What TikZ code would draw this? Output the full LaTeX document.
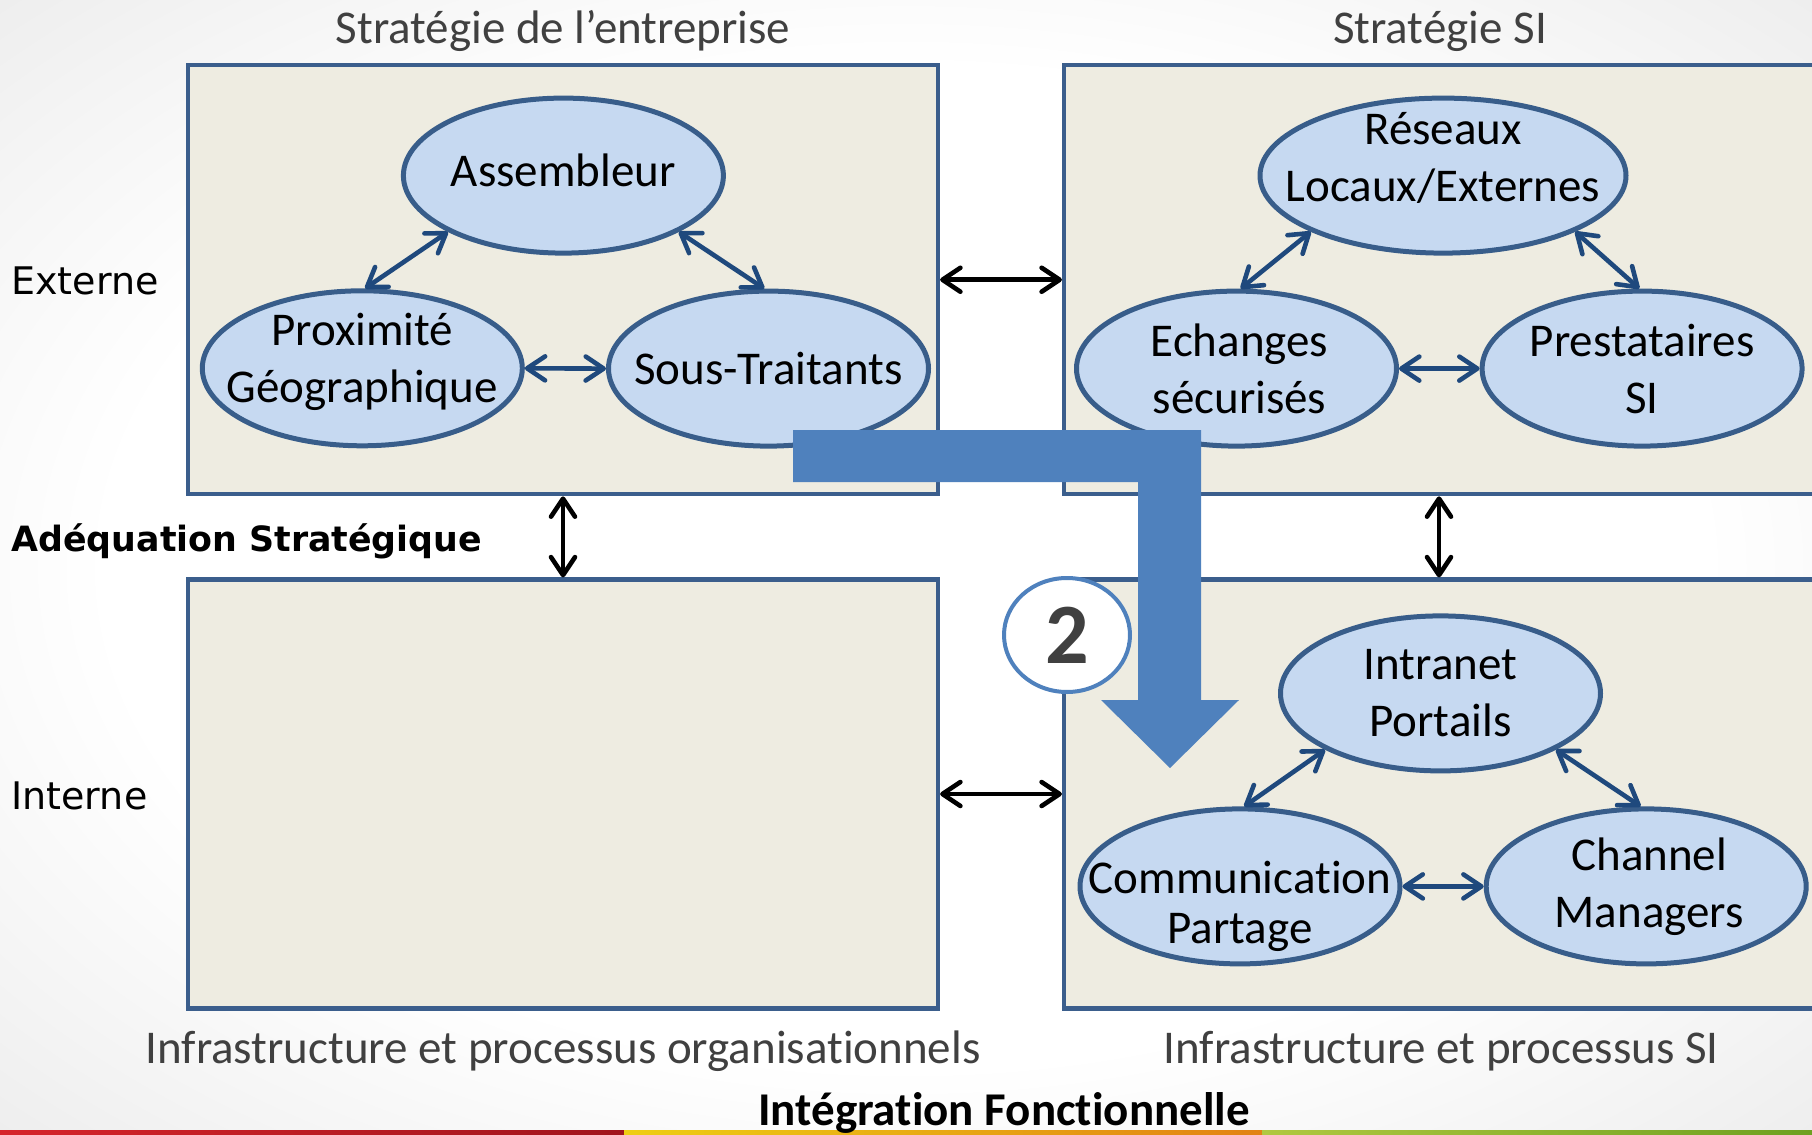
\documentclass[tikz,border=0pt]{standalone}
\usepackage{fontspec}
\setmainfont{Carlito}[Ligatures=NoCommon]
\newfontfamily\vfont{DejaVu Sans}
\usetikzlibrary{arrows.meta,shapes.geometric,calc}
\definecolor{boxfill}{HTML}{EEECE1}
\definecolor{boxline}{HTML}{3B5E8C}
\definecolor{ellfill}{HTML}{C6D9F1}
\definecolor{ellline}{HTML}{385D8A}
\definecolor{arrblue}{HTML}{1F497D}
\definecolor{accent}{HTML}{4F81BD}
\definecolor{txtgray}{HTML}{404040}
\pgfdeclareradialshading{bgshade}{\pgfpoint{0bp}{0bp}}{color(0bp)=(white); color(22bp)=(white); color(50bp)=(gray!28); color(75bp)=(gray!36)}
\tikzset{
  bx/.style={rectangle, draw=boxline, fill=boxfill, line width=2.1pt, minimum width=375pt, minimum height=214.5pt, inner sep=0pt},
  ell/.style={ellipse, draw=ellline, fill=ellfill, line width=2.5pt, minimum width=160pt, minimum height=77.5pt, inner sep=0pt},
  etxt/.style={align=center, inner sep=0pt, font=\fontsize{23.5}{28.5}\selectfont, text=black},
  dbl/.style={{Straight Barb[length=9pt,width=12pt,round]}-{Straight Barb[length=9pt,width=12pt,round]}, line width=2.3pt, line cap=round},
  inarr/.style={dbl, draw=arrblue},
  outarr/.style={dbl, draw=black},
  ttl/.style={inner sep=0pt, font=\fontsize{23.5}{28}\selectfont, text=txtgray},
  side/.style={inner sep=0pt, font=\vfont\fontsize{19}{22}\selectfont, text=black},
  sideb/.style={inner sep=0pt, font=\vfont\bfseries\fontsize{17.4}{21}\selectfont, text=black}
}
\begin{document}
\begin{tikzpicture}[x=0.5pt,y=-0.5pt]
\useasboundingbox (0,0) rectangle (1812,1135);
\shade[shading=bgshade] (0,0) rectangle (1812,1135);
% bottom strip
\shade[left color={rgb,255:red,214;green,36;blue,42}, right color={rgb,255:red,160;green,20;blue,28}] (0,1130) rectangle (624,1135);
\shade[left color={rgb,255:red,238;green,206;blue,20}, right color={rgb,255:red,226;green,130;blue,20}] (624,1130) rectangle (1262,1135);
\shade[left color={rgb,255:red,176;green,200;blue,64}, right color={rgb,255:red,110;green,160;blue,32}] (1262,1130) rectangle (1812,1135);

% boxes
\node[bx] (TL) at (563,279.75) {};
\node[bx] (TR) at (1439,279.75) {};
\node[bx] (BL) at (563,794) {};
\node[bx] (BR) at (1439,794) {};

% arrows between boxes
\draw[outarr] (TL) -- (TR);
\draw[outarr] (BL) -- (BR);
\draw[outarr] (TL) -- (BL);
\draw[outarr] (TR) -- (BR);

% ellipses
\node[ell] (A) at (563.4,175.6) {};
\node[ell] (P) at (362.3,368.3) {};
\node[ell] (S) at (768.5,368.6) {};
\node[ell, minimum width=183pt] (R) at (1443,175.6) {};
\node[ell] (E) at (1236.5,368.6) {};
\node[ell] (Pr) at (1642.1,368.6) {};
\node[ell] (I) at (1440.5,693.4) {};
\node[ell] (C) at (1240,886.4) {};
\node[ell] (Ch) at (1646.2,886.4) {};

% ellipse texts
\node[etxt] (At) at ($(A)+(0,-5)$) {Assembleur};
\node[etxt] (Pt) at ($(P)+(0,-6)$) {Proximité\\Géographique};
\node[etxt] (St) at (S) {Sous-Traitants};
\node[etxt] (Rt) at ($(R)+(0,-18)$) {Réseaux\\Locaux/Externes};
\node[etxt] (Et) at ($(E)+(3,0)$) {Echanges\\sécurisés};
\node[etxt] (Prt) at (Pr) {Prestataires\\SI};
\node[etxt] (It) at (I) {Intranet\\Portails};
\node[etxt, font=\fontsize{23.5}{25}\selectfont] (Ct) at ($(C)+(0,20)$) {Communication\\Partage};
\node[etxt] (Cht) at ($(Ch)+(3,0)$) {Channel\\Managers};

% inner arrows
\draw[inarr] (A.206) -- (P.88);
\draw[inarr] (A.334) -- (S.93);
\draw[inarr] (P.east) -- (S.west);
\draw[inarr] (R.203) -- (E.87);
\draw[inarr] (R.337) -- (Pr.92);
\draw[inarr] (E.east) -- (Pr.west);
\draw[inarr] (I.206) -- (C.87);
\draw[inarr] (I.334) -- (Ch.94);
\draw[inarr] (C.east) -- (Ch.west);

% big arrow
\fill[accent] (793,430) -- (1201,430) -- (1201,700) -- (1239,700) -- (1170,768) -- (1101,700) -- (1138,700) -- (1138,482) -- (793,482) -- cycle;

% circle 2
\node[ellipse, draw=accent, fill=white, line width=2pt, minimum width=63pt, minimum height=57pt, inner sep=0pt, text=txtgray, font=\bfseries\fontsize{43}{43}\selectfont] (two) at (1067,635) {2};

% labels
\node[ttl, anchor=base] (t1) at (563,43) {Stratégie de l’entreprise};
\node[ttl, anchor=base] (t2) at (1440,43) {Stratégie SI};
\node[side, anchor=base west] (ext) at (11,294) {Externe};
\node[sideb, anchor=base west] (adq) at (11,551) {Adéquation Stratégique};
\node[side, anchor=base west] (int) at (11,809) {Interne};
\node[ttl, anchor=base] (b1) at (563,1063) {Infrastructure et processus organisationnels};
\node[ttl, anchor=base] (b2) at (1441,1063) {Infrastructure et processus SI};
\node[inner sep=0pt, anchor=base, text=black, font=\bfseries\fontsize{23.5}{28}\selectfont] (ifn) at (1004,1125) {Intégration Fonctionnelle};
\end{tikzpicture}
\end{document}
